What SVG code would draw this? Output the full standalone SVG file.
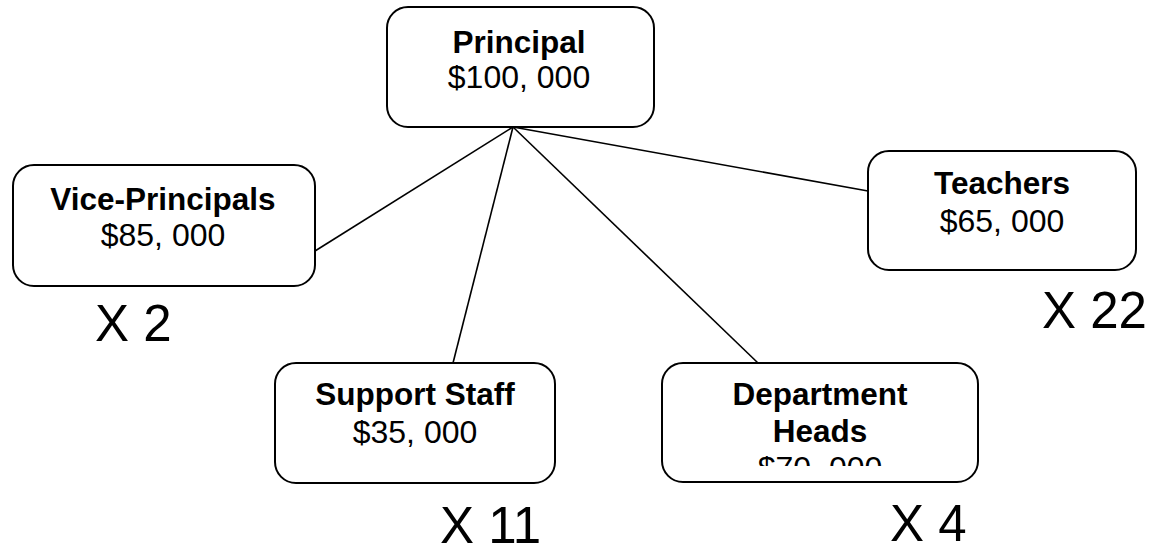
<svg xmlns="http://www.w3.org/2000/svg" width="1155" height="544" viewBox="0 0 1155 544">
<defs>
<style>
.box{fill:#fff;stroke:#000;stroke-width:2}
.t{font-family:"Liberation Sans",Arial,sans-serif;text-anchor:middle;fill:#000}
.b{font-weight:bold;font-size:31.5px}
.r{font-size:32px}
.x{font-family:"Liberation Sans",Arial,sans-serif;font-size:51px;fill:#000}
.edge{stroke:#000;stroke-width:1.6;fill:none}
</style>
<clipPath id="clipDept"><rect x="662" y="363" width="316" height="103"/></clipPath>
</defs>
<rect width="1155" height="544" fill="#fff"/>
<g id="connectors">
<line class="edge" x1="513" y1="127" x2="315" y2="251"/>
<line class="edge" x1="513" y1="127" x2="453" y2="363"/>
<line class="edge" x1="513" y1="127" x2="758" y2="363"/>
<line class="edge" x1="513" y1="127" x2="868" y2="191"/>
</g>
<g id="principal">
<rect class="box" x="387" y="7" width="267" height="120" rx="21"/>
<text class="t b" x="519" y="53">Principal</text>
<text class="t r" x="519" y="88">$100, 000</text>
</g>
<g id="vice-principals">
<rect class="box" x="13" y="165" width="302" height="121" rx="21"/>
<text class="t b" x="163" y="210">Vice-Principals</text>
<text class="t r" x="163" y="246">$85, 000</text>
</g>
<g id="teachers">
<rect class="box" x="868" y="151" width="268" height="119" rx="21"/>
<text class="t b" x="1002" y="194">Teachers</text>
<text class="t r" x="1002" y="232">$65, 000</text>
</g>
<g id="support-staff">
<rect class="box" x="275" y="363" width="280" height="120" rx="21"/>
<text class="t b" x="415" y="405">Support Staff</text>
<text class="t r" x="415" y="443">$35, 000</text>
</g>
<g id="department-heads">
<rect class="box" x="662" y="363" width="316" height="119" rx="21"/>
<g clip-path="url(#clipDept)">
<text class="t b" x="820" y="405">Department</text>
<text class="t b" x="820" y="442">Heads</text>
<text class="t r" x="820" y="479">$70, 000</text>
</g>
</g>
<g id="counts">
<text class="x" x="95" y="341">X 2</text>
<text class="x" x="1042" y="328">X 22</text>
<text class="x" x="440" y="543">X 11</text>
<text class="x" x="890" y="541">X 4</text>
</g>
</svg>
